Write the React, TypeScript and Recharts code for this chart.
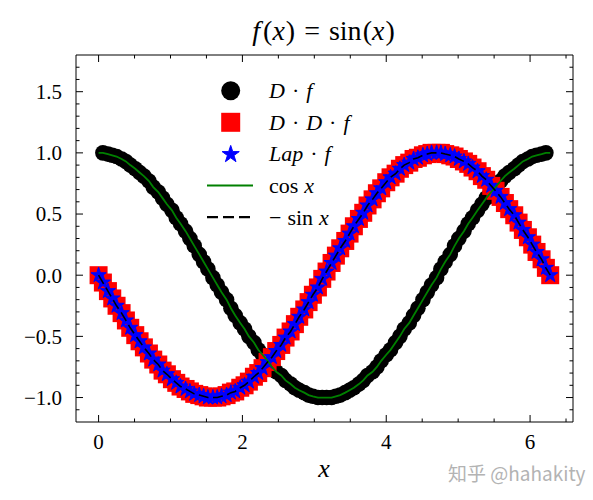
import React from 'react';
import { ComposedChart, XAxis, YAxis, Scatter, Line } from 'recharts';

// sample positions (0 .. 2π, 100 points)
const xs = [
  0.00, 0.06, 0.13, 0.19, 0.25, 0.32, 0.38, 0.44, 0.51, 0.57,
  0.63, 0.70, 0.76, 0.83, 0.89, 0.95, 1.02, 1.08, 1.14, 1.21,
  1.27, 1.33, 1.40, 1.46, 1.52, 1.59, 1.65, 1.71, 1.78, 1.84,
  1.90, 1.97, 2.03, 2.09, 2.16, 2.22, 2.28, 2.35, 2.41, 2.47,
  2.54, 2.60, 2.67, 2.73, 2.79, 2.86, 2.92, 2.98, 3.05, 3.11,
  3.17, 3.24, 3.30, 3.36, 3.43, 3.49, 3.55, 3.62, 3.68, 3.74,
  3.81, 3.87, 3.93, 4.00, 4.06, 4.13, 4.19, 4.25, 4.32, 4.38,
  4.44, 4.51, 4.57, 4.63, 4.70, 4.76, 4.82, 4.89, 4.95, 5.01,
  5.08, 5.14, 5.20, 5.27, 5.33, 5.39, 5.46, 5.52, 5.59, 5.65,
  5.71, 5.78, 5.84, 5.90, 5.97, 6.03, 6.09, 6.16, 6.22, 6.28,
];

// D·f values (black circles)
const dF = [
  1.00, 1.00, 0.99, 0.98, 0.97, 0.95, 0.93, 0.90, 0.87, 0.84,
  0.81, 0.77, 0.72, 0.68, 0.63, 0.58, 0.53, 0.47, 0.42, 0.36,
  0.30, 0.24, 0.17, 0.11, 0.05, -0.02, -0.08, -0.14, -0.20, -0.27,
  -0.33, -0.39, -0.44, -0.50, -0.55, -0.61, -0.65, -0.70, -0.75, -0.79,
  -0.82, -0.86, -0.89, -0.92, -0.94, -0.96, -0.98, -0.99, -1.00, -1.00,
  -1.00, -1.00, -0.99, -0.98, -0.96, -0.94, -0.92, -0.89, -0.86, -0.82,
  -0.79, -0.75, -0.70, -0.65, -0.61, -0.55, -0.50, -0.44, -0.39, -0.33,
  -0.27, -0.20, -0.14, -0.08, -0.02, 0.05, 0.11, 0.17, 0.24, 0.30,
  0.36, 0.42, 0.47, 0.53, 0.58, 0.63, 0.68, 0.72, 0.77, 0.81,
  0.84, 0.87, 0.90, 0.93, 0.95, 0.97, 0.98, 0.99, 1.00, 1.00,
];

// D·D·f values (red squares)
const ddF = [
  0.00, -0.06, -0.13, -0.19, -0.25, -0.31, -0.37, -0.43, -0.49, -0.54,
  -0.59, -0.64, -0.69, -0.73, -0.78, -0.81, -0.85, -0.88, -0.91, -0.93,
  -0.95, -0.97, -0.98, -0.99, -1.00, -1.00, -1.00, -0.99, -0.98, -0.96,
  -0.95, -0.92, -0.90, -0.87, -0.83, -0.80, -0.76, -0.71, -0.67, -0.62,
  -0.57, -0.51, -0.46, -0.40, -0.34, -0.28, -0.22, -0.16, -0.10, -0.03,
  0.03, 0.10, 0.16, 0.22, 0.28, 0.34, 0.40, 0.46, 0.51, 0.57,
  0.62, 0.67, 0.71, 0.76, 0.80, 0.83, 0.87, 0.90, 0.92, 0.95,
  0.96, 0.98, 0.99, 1.00, 1.00, 1.00, 0.99, 0.98, 0.97, 0.95,
  0.93, 0.91, 0.88, 0.85, 0.81, 0.78, 0.73, 0.69, 0.64, 0.59,
  0.54, 0.49, 0.43, 0.37, 0.31, 0.25, 0.19, 0.13, 0.06, 0.00,
];

// Lap·f values (blue stars) — same readings as D·D·f
const lapF = ddF;
// reference curves
const cosX = dF;
const negSinX = ddF;

// ticks
const xMajor = [0, 2, 4, 6];
const xMajorLabels = ['0', '2', '4', '6'];
const xMinor = [0.5, 1, 1.5, 2.5, 3, 3.5, 4.5, 5, 5.5, 6.5];
const yMajor = [-1, -0.5, 0, 0.5, 1, 1.5];
const yMajorLabels = ['\u22121.0', '\u22120.5', '0.0', '0.5', '1.0', '1.5'];
const yMinor = [-1.1, -0.9, -0.8, -0.7, -0.6, -0.4, -0.3, -0.2, -0.1, 0.1, 0.2, 0.3, 0.4, 0.6, 0.7, 0.8, 0.9, 1.1, 1.2, 1.3, 1.4, 1.6, 1.7];

const xDomain = [-0.314, 6.597];
const yDomain = [-1.2, 1.8];

const SERIF = '"Liberation Serif", "Times New Roman", serif';
const MAJOR_LEN = 7;
const MINOR_LEN = 3.5;

const xTicks = [...xMajor, ...xMinor].sort((a, b) => a - b);
const yTicks = [...yMajor, ...yMinor].sort((a, b) => a - b);

const majorIndex = (list: number[], v: number) => list.findIndex((m) => Math.abs(m - v) < 1e-6);

const dfPoints = xs.slice(1, -1).map((x, i) => ({ x, y: dF[i + 1] }));
const ddfPoints = xs.map((x, i) => ({ x, y: ddF[i] }));
const lapPoints = xs.map((x, i) => ({ x, y: lapF[i] }));
const lineRows = xs.map((x, i) => ({ x, cos: cosX[i], negSin: negSinX[i] }));

const BottomTick = (props: any) => {
  const { x, y, payload } = props;
  const mi = majorIndex(xMajor, payload.value);
  const len = mi >= 0 ? MAJOR_LEN : MINOR_LEN;
  return (
    <g>
      <line x1={x} y1={y} x2={x} y2={y - len} stroke="#000" strokeWidth={1} />
      {mi >= 0 && (
        <text x={x} y={y + 27} textAnchor="middle" fontFamily={SERIF} fontSize={21} fill="#000">
          {xMajorLabels[mi]}
        </text>
      )}
    </g>
  );
};

const TopTick = (props: any) => {
  const { x, y, payload } = props;
  const mi = majorIndex(xMajor, payload.value);
  const len = mi >= 0 ? MAJOR_LEN : MINOR_LEN;
  return <line x1={x} y1={y} x2={x} y2={y + len} stroke="#000" strokeWidth={1} />;
};

const LeftTick = (props: any) => {
  const { x, y, payload } = props;
  const mi = majorIndex(yMajor, payload.value);
  const len = mi >= 0 ? MAJOR_LEN : MINOR_LEN;
  return (
    <g>
      <line x1={x} y1={y} x2={x + len} y2={y} stroke="#000" strokeWidth={1} />
      {mi >= 0 && (
        <text x={x - 14} y={y + 7.3} textAnchor="end" fontFamily={SERIF} fontSize={21} fill="#000">
          {yMajorLabels[mi]}
        </text>
      )}
    </g>
  );
};

const RightTick = (props: any) => {
  const { x, y, payload } = props;
  const mi = majorIndex(yMajor, payload.value);
  const len = mi >= 0 ? MAJOR_LEN : MINOR_LEN;
  return <line x1={x} y1={y} x2={x - len} y2={y} stroke="#000" strokeWidth={1} />;
};

const starPoints = (cx: number, cy: number, R: number) => {
  const r = R * 0.382;
  const pts: string[] = [];
  for (let k = 0; k < 10; k++) {
    const a = -Math.PI / 2 + (k * Math.PI) / 5;
    const rad = k % 2 === 0 ? R : r;
    pts.push(`${cx + rad * Math.cos(a)},${cy + rad * Math.sin(a)}`);
  }
  return pts.join(' ');
};

const CircleShape = (p: any) => <circle cx={p.cx} cy={p.cy} r={7.8} fill="#000" />;
const SquareShape = (p: any) => (
  <rect x={p.cx - 9} y={p.cy - 9} width={18} height={18} fill="#ff0000" />
);
const StarShape = (p: any) => (
  <polygon points={starPoints(p.cx, p.cy, 8)} fill="#0000ff" stroke="#0000ff" strokeWidth={1} strokeLinejoin="miter" />
);

const legendRows = ['df', 'ddf', 'lap', 'cos', 'nsin'];

const Overlay = () => {
  const mx = 230.7;
  const tx = 269;
  const y0 = 90.7;
  const dy = 31.6;
  const it = { fontStyle: 'italic' as const };
  return (
    <svg
      width={593}
      height={500}
      style={{ position: 'absolute', left: 0, top: 0, pointerEvents: 'none' }}
    >
      {/* title */}
      <text x={323.5} y={40} textAnchor="middle" fontFamily={SERIF} fontSize={28} fill="#000">
        <tspan style={it}>f</tspan>
        <tspan dx={3}>(</tspan>
        <tspan style={it}>x</tspan>
        <tspan dx={1}>)</tspan>
        <tspan dx={9}>=</tspan>
        <tspan dx={9}>sin</tspan>
        <tspan dx={1}>(</tspan>
        <tspan style={it}>x</tspan>
        <tspan dx={1}>)</tspan>
      </text>
      {/* x-axis label */}
      <text x={324} y={477} textAnchor="middle" fontFamily={SERIF} fontSize={26} fill="#000" style={it}>
        x
      </text>
      {/* legend */}
      {legendRows.map((key, i) => {
        const cy = y0 + i * dy;
        let marker: React.ReactNode = null;
        let label: React.ReactNode = null;
        if (key === 'df') {
          marker = <circle cx={mx} cy={cy} r={9.5} fill="#000" />;
          label = (
            <>
              <tspan style={it}>D</tspan>
              <tspan dx={7}>·</tspan>
              <tspan dx={7} style={it}>f</tspan>
            </>
          );
        } else if (key === 'ddf') {
          marker = <rect x={mx - 9.5} y={cy - 9.5} width={19} height={19} fill="#ff0000" />;
          label = (
            <>
              <tspan style={it}>D</tspan>
              <tspan dx={7}>·</tspan>
              <tspan dx={7} style={it}>D</tspan>
              <tspan dx={7}>·</tspan>
              <tspan dx={7} style={it}>f</tspan>
            </>
          );
        } else if (key === 'lap') {
          marker = (
            <polygon points={starPoints(mx, cy + 0.5, 9)} fill="#0000ff" stroke="#0000ff" strokeWidth={1} />
          );
          label = (
            <>
              <tspan style={it}>Lap</tspan>
              <tspan dx={7}>·</tspan>
              <tspan dx={7} style={it}>f</tspan>
            </>
          );
        } else if (key === 'cos') {
          marker = <line x1={207} y1={cy} x2={253} y2={cy} stroke="#008000" strokeWidth={2.2} />;
          label = (
            <>
              <tspan>cos</tspan>
              <tspan dx={6} style={it}>x</tspan>
            </>
          );
        } else {
          marker = (
            <line x1={207} y1={cy} x2={253} y2={cy} stroke="#000" strokeWidth={2.2} strokeDasharray="11 5" />
          );
          label = (
            <>
              <tspan>{'\u2212'}</tspan>
              <tspan dx={6}>sin</tspan>
              <tspan dx={6} style={it}>x</tspan>
            </>
          );
        }
        return (
          <g key={key}>
            {marker}
            <text x={tx} y={cy + 7.5} fontFamily={SERIF} fontSize={22} fill="#000">
              {label}
            </text>
          </g>
        );
      })}
      {/* watermark */}
      <text
        x={448}
        y={481}
        fontFamily='"Noto Sans CJK SC", "Noto Sans", sans-serif'
        fontSize={19}
        fill="#b3b3b3"
      >
        知乎 @hahakity
      </text>
    </svg>
  );
};

export default function App() {
  return (
    <div style={{ position: 'absolute', left: 0, top: 0, width: 593, height: 500, background: '#fff' }}>
      <ComposedChart
        width={593}
        height={500}
        data={lineRows}
        margin={{ top: 54, right: 19, bottom: 77, left: 75 }}
      >
        <XAxis
          xAxisId="b"
          type="number"
          dataKey="x"
          domain={xDomain}
          allowDataOverflow
          ticks={xTicks}
          interval={0}
          height={1}
          tickLine={false}
          tickSize={0}
          tickMargin={0}
          tick={BottomTick}
          axisLine={{ stroke: '#000', strokeWidth: 1 }}
        />
        <XAxis
          xAxisId="t"
          orientation="top"
          type="number"
          dataKey="x"
          domain={xDomain}
          allowDataOverflow
          ticks={xTicks}
          interval={0}
          height={1}
          tickLine={false}
          tickSize={0}
          tickMargin={0}
          tick={TopTick}
          axisLine={{ stroke: '#000', strokeWidth: 1 }}
        />
        <YAxis
          yAxisId="l"
          type="number"
          dataKey="y"
          domain={yDomain}
          allowDataOverflow
          ticks={yTicks}
          interval={0}
          width={1}
          tickLine={false}
          tickSize={0}
          tickMargin={0}
          tick={LeftTick}
          axisLine={{ stroke: '#000', strokeWidth: 1 }}
        />
        <YAxis
          yAxisId="r"
          orientation="right"
          type="number"
          domain={yDomain}
          allowDataOverflow
          ticks={yTicks}
          interval={0}
          width={1}
          tickLine={false}
          tickSize={0}
          tickMargin={0}
          tick={RightTick}
          axisLine={{ stroke: '#000', strokeWidth: 1 }}
        />
        <Scatter
          xAxisId="b"
          yAxisId="l"
          data={dfPoints}
          dataKey="y"
          shape={CircleShape}
          isAnimationActive={false}
          zIndex={600}
        />
        <Scatter
          xAxisId="b"
          yAxisId="l"
          data={ddfPoints}
          dataKey="y"
          shape={SquareShape}
          isAnimationActive={false}
          zIndex={601}
        />
        <Scatter
          xAxisId="b"
          yAxisId="l"
          data={lapPoints}
          dataKey="y"
          shape={StarShape}
          isAnimationActive={false}
          zIndex={602}
        />
        <Line
          xAxisId="b"
          yAxisId="l"
          type="linear"
          dataKey="cos"
          stroke="#008000"
          strokeWidth={1.8}
          dot={false}
          activeDot={false}
          isAnimationActive={false}
          zIndex={603}
        />
        <Line
          xAxisId="b"
          yAxisId="l"
          type="linear"
          dataKey="negSin"
          stroke="#000"
          strokeWidth={1.6}
          strokeDasharray="10 4.5"
          dot={false}
          activeDot={false}
          isAnimationActive={false}
          zIndex={604}
        />
      </ComposedChart>
      <Overlay />
    </div>
  );
}
